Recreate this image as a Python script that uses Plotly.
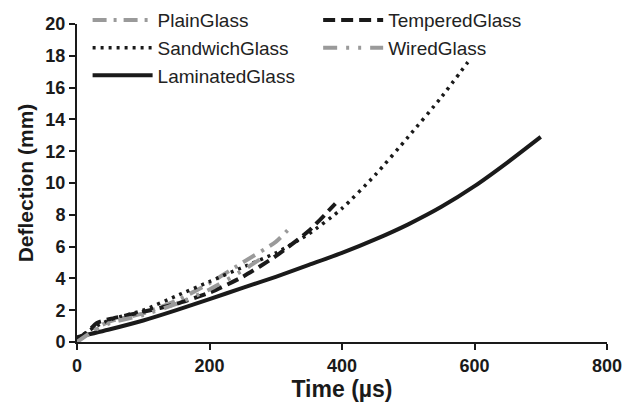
import plotly.graph_objects as go

plain_t = [0, 25, 50, 100, 150, 200, 250, 300, 322]
plain_d = [0.0, 0.8, 1.3, 1.8, 2.6, 3.7, 5.0, 6.3, 7.2]

tempered_t = [0, 15, 30, 50, 100, 150, 200, 250, 300, 350, 390]
tempered_d = [0.2, 0.6, 1.2, 1.45, 1.9, 2.4, 3.1, 4.1, 5.4, 7.0, 8.7]

sandwich_t = [0, 25, 50, 100, 150, 200, 250, 300, 350, 400, 450, 500, 550, 590]
sandwich_d = [0.2, 0.9, 1.4, 2.0, 2.9, 3.8, 4.7, 5.6, 6.8, 8.4, 10.5, 12.9, 15.4, 17.6]

wired_t = [0, 25, 50, 100, 150, 200, 250, 280]
wired_d = [0.0, 0.7, 1.2, 1.7, 2.4, 3.3, 4.5, 5.3]

laminated_t = [0, 50, 100, 150, 200, 250, 300, 350, 400, 450, 500, 550, 600, 650, 700]
laminated_d = [0.3, 0.8, 1.35, 2.0, 2.7, 3.4, 4.1, 4.85, 5.6, 6.45, 7.4, 8.5, 9.8, 11.3, 12.9]

GRAY = "#9a9a9a"
BLACK = "#1a1a1a"
FONT = "Arial, 'Liberation Sans', sans-serif"

fig = go.Figure()
fig.add_trace(go.Scatter(x=plain_t, y=plain_d, mode="lines", name="PlainGlass",
                         line=dict(color=GRAY, width=4, dash="14px,7px,3px,7px", shape="spline", smoothing=0.6),
                         legend="legend"))
fig.add_trace(go.Scatter(x=sandwich_t, y=sandwich_d, mode="lines", name="SandwichGlass",
                         line=dict(color=BLACK, width=3.5, dash="3px,5px", shape="spline", smoothing=0.6),
                         legend="legend"))
fig.add_trace(go.Scatter(x=laminated_t, y=laminated_d, mode="lines", name="LaminatedGlass",
                         line=dict(color=BLACK, width=4, shape="spline", smoothing=0.6),
                         legend="legend"))
fig.add_trace(go.Scatter(x=tempered_t, y=tempered_d, mode="lines", name="TemperedGlass",
                         line=dict(color=BLACK, width=4, dash="12px,6px", shape="spline", smoothing=0.6),
                         legend="legend2"))
fig.add_trace(go.Scatter(x=wired_t, y=wired_d, mode="lines", name="WiredGlass",
                         line=dict(color=GRAY, width=4, dash="14px,9px,3px,9px,3px,9px", shape="spline", smoothing=0.6),
                         legend="legend2"))

legend_common = dict(font=dict(family=FONT, size=19, color="#222222"),
                     bgcolor="rgba(0,0,0,0)", borderwidth=0, tracegroupgap=0,
                     itemwidth=60, xanchor="left", yanchor="top", orientation="v")

fig.update_layout(
    width=635, height=405,
    margin=dict(l=77, r=28, t=24, b=63, autoexpand=False),
    paper_bgcolor="white", plot_bgcolor="white",
    font=dict(family=FONT, color=BLACK),
    showlegend=True,
    legend=dict(x=0.02, y=1.072, **legend_common),
    legend2=dict(x=0.455, y=1.072, **legend_common),
    xaxis=dict(range=[0, 800], tickvals=[0, 200, 400, 600, 800],
               showgrid=False, zeroline=False, showline=True, linecolor=BLACK, linewidth=2,
               ticks="outside", ticklen=6, tickwidth=2, tickcolor=BLACK,
               tickfont=dict(family=FONT, size=18, weight="bold", color=BLACK),
               title=dict(text="<b>Time (µs)</b>", font=dict(family=FONT, size=23, color=BLACK), standoff=6)),
    yaxis=dict(range=[0, 20], tickvals=list(range(0, 21, 2)),
               showgrid=False, zeroline=False, showline=True, linecolor=BLACK, linewidth=2,
               ticks="outside", ticklen=6, tickwidth=2, tickcolor=BLACK,
               tickfont=dict(family=FONT, size=18, weight="bold", color=BLACK),
               title=dict(text="<b>Deflection (mm)</b>", font=dict(family=FONT, size=21, color=BLACK), standoff=6)),
)

fig.write_html("out.html")
